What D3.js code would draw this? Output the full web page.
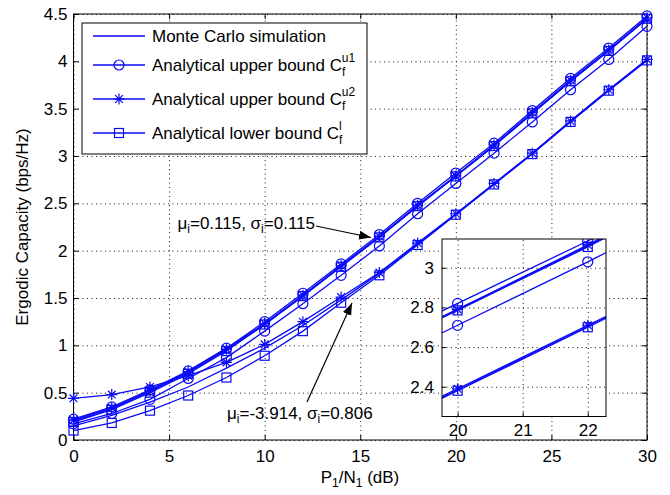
<!DOCTYPE html>
<html>
<head>
<meta charset="utf-8" />
<script src="https://cdn.jsdelivr.net/npm/d3@7"></script>
<style>
  body { margin: 0; background: #fff; }
  text { font-family: "Liberation Sans", Arial, sans-serif; fill: #000; }
  .grid line { stroke: #000; stroke-dasharray: 1, 3.5; stroke-width: 0.9; }
  .grid path { display: none; }
  .axis path { display: none; }
  .axis line { stroke: #000; }
</style>
</head>
<body>
<svg id="chart" width="670" height="495"></svg>
<script>
// SNR points P1/N1 (dB)
const snr = [0, 2, 4, 6, 8, 10, 12, 14, 16, 18, 20, 22, 24, 26, 28, 30];

// mu_i = 0.115, sigma_i = 0.115
const mcA = [0.20, 0.33, 0.51, 0.71, 0.95, 1.22, 1.52, 1.84, 2.15, 2.47, 2.79, 3.11, 3.45, 3.79, 4.12, 4.45];
const u1A = [0.22, 0.35, 0.53, 0.73, 0.97, 1.25, 1.55, 1.86, 2.17, 2.50, 2.82, 3.135, 3.48, 3.82, 4.14, 4.48];
const u2A = [0.21, 0.34, 0.52, 0.72, 0.96, 1.23, 1.53, 1.84, 2.15, 2.48, 2.79, 3.115, 3.46, 3.80, 4.12, 4.46];
const lbA = [0.19, 0.32, 0.50, 0.70, 0.94, 1.22, 1.52, 1.83, 2.14, 2.47, 2.785, 3.105, 3.45, 3.79, 4.11, 4.45];

// mu_i = -3.914, sigma_i = 0.806
const mcB = [0.15, 0.26, 0.40, 0.56, 0.76, 0.97, 1.21, 1.48, 1.76, 2.07, 2.385, 2.705, 3.03, 3.37, 3.70, 4.02];
const u1B = [0.17, 0.28, 0.43, 0.65, 0.87, 1.15, 1.44, 1.74, 2.05, 2.39, 2.71, 3.03, 3.36, 3.70, 4.02, 4.37];
const u2B = [0.44, 0.48, 0.56, 0.68, 0.82, 1.01, 1.25, 1.51, 1.77, 2.08, 2.39, 2.71, 3.03, 3.37, 3.70, 4.02];
const lbB = [0.10, 0.18, 0.31, 0.47, 0.66, 0.89, 1.15, 1.45, 1.74, 2.06, 2.38, 2.70, 3.02, 3.36, 3.69, 4.01];

const xTicks = [0, 5, 10, 15, 20, 25, 30];
const yTicks = [0, 0.5, 1, 1.5, 2, 2.5, 3, 3.5, 4, 4.5];
const insetXTicks = [20, 21, 22];
const insetYTicks = [2.4, 2.6, 2.8, 3];

const blue = "#0a0af5";
const fs = "17px";

const series = [
  {vals: mcA, mark: "none"}, {vals: u1A, mark: "circle"}, {vals: u2A, mark: "star"}, {vals: lbA, mark: "square"},
  {vals: mcB, mark: "none"}, {vals: u1B, mark: "circle"}, {vals: u2B, mark: "star"}, {vals: lbB, mark: "square"}
];

const svg = d3.select("#chart");

const x = d3.scaleLinear().domain([0, 30]).range([73.5, 647]);
const y = d3.scaleLinear().domain([0, 4.5]).range([440, 14]);
const plain = d => String(d);

function drawMarker(g, type, cx, cy) {
  if (type === "circle") {
    g.append("circle").attr("cx", cx).attr("cy", cy).attr("r", 5)
      .attr("fill", "none").attr("stroke", blue).attr("stroke-width", 1.2);
  } else if (type === "square") {
    g.append("rect").attr("x", cx - 4.5).attr("y", cy - 4.5).attr("width", 9).attr("height", 9)
      .attr("fill", "none").attr("stroke", blue).attr("stroke-width", 1.2);
  } else if (type === "star") {
    let s = 5.5, k = s * 0.7;
    g.append("path")
      .attr("d", `M${cx - s},${cy}H${cx + s}M${cx},${cy - s}V${cy + s}M${cx - k},${cy - k}L${cx + k},${cy + k}M${cx - k},${cy + k}L${cx + k},${cy - k}`)
      .attr("stroke", blue).attr("stroke-width", 1.2).attr("fill", "none");
  }
}

// grid
svg.append("g").attr("class", "grid")
  .attr("transform", "translate(0,440)")
  .call(d3.axisBottom(x).tickValues(xTicks).tickSize(-426).tickFormat(""));
svg.append("g").attr("class", "grid")
  .attr("transform", "translate(73.5,0)")
  .call(d3.axisLeft(y).tickValues(yTicks).tickSize(-573.5).tickFormat(""));

// axes with inner ticks
svg.append("g").attr("class", "axis").attr("transform", "translate(0,440)")
  .call(d3.axisBottom(x).tickValues(xTicks).tickFormat(plain).tickSize(-5).tickPadding(10).tickSizeOuter(0))
  .selectAll("text").style("font-size", fs).attr("dy", "0.71em");
svg.append("g").attr("class", "axis").attr("transform", "translate(0,14)")
  .call(d3.axisTop(x).tickValues(xTicks).tickSize(-5).tickFormat("").tickSizeOuter(0));
svg.append("g").attr("class", "axis").attr("transform", "translate(73.5,0)")
  .call(d3.axisLeft(y).tickValues(yTicks).tickFormat(plain).tickSize(-5).tickPadding(6).tickSizeOuter(0))
  .selectAll("text").style("font-size", fs);
svg.append("g").attr("class", "axis").attr("transform", "translate(647,0)")
  .call(d3.axisRight(y).tickValues(yTicks).tickSize(-5).tickFormat("").tickSizeOuter(0));

svg.append("rect").attr("x", 73.5).attr("y", 14).attr("width", 573.5).attr("height", 426)
  .attr("fill", "none").attr("stroke", "#000").attr("stroke-width", 1);

// curves
const line = d3.line().x((d, i) => x(snr[i])).y(d => y(d));
const curves = svg.append("g");
series.forEach(s => {
  curves.append("path").attr("d", line(s.vals)).attr("fill", "none")
    .attr("stroke", blue).attr("stroke-width", 1.3);
  if (s.mark !== "none") s.vals.forEach((v, i) => drawMarker(curves, s.mark, x(snr[i]), y(v)));
});

// annotations
svg.append("defs").append("marker")
  .attr("id", "head").attr("viewBox", "0 -5 12 10").attr("refX", 12).attr("refY", 0)
  .attr("markerWidth", 12).attr("markerHeight", 10).attr("markerUnits", "userSpaceOnUse")
  .attr("orient", "auto")
  .append("path").attr("d", "M0,-4.5L12,0L0,4.5Z").attr("fill", "#000");

function label(tx, ty, anchor, mu, sigma) {
  let t = svg.append("text").attr("x", tx).attr("y", ty).attr("text-anchor", anchor).style("font-size", fs);
  t.append("tspan").text("\u03bc");
  t.append("tspan").attr("dy", 4).style("font-size", "12px").text("i");
  t.append("tspan").attr("dy", -4).text("=" + mu + ", \u03c3");
  t.append("tspan").attr("dy", 4).style("font-size", "12px").text("i");
  t.append("tspan").attr("dy", -4).text("=" + sigma);
}
label(315, 229, "end", "0.115", "0.115");
svg.append("line").attr("x1", 316).attr("y1", 226).attr("x2", 371).attr("y2", 237.5)
  .attr("stroke", "#000").attr("stroke-width", 1.2).attr("marker-end", "url(#head)");
label(227, 419, "start", "-3.914", "0.806");
svg.append("line").attr("x1", 307).attr("y1", 402).attr("x2", 352).attr("y2", 303)
  .attr("stroke", "#000").attr("stroke-width", 1.2).attr("marker-end", "url(#head)");

// inset
const ix = d3.scaleLinear().domain([19.76, 22.28]).range([442, 606]);
const iy = d3.scaleLinear().domain([2.25, 3.145]).range([416.5, 239]);
const inset = svg.append("g");
inset.append("rect").attr("x", 442).attr("y", 239).attr("width", 164).attr("height", 177.5).attr("fill", "#fff");
inset.append("clipPath").attr("id", "insetClip").append("rect")
  .attr("x", 442).attr("y", 239).attr("width", 164).attr("height", 177.5);
inset.append("g").attr("class", "grid").attr("transform", "translate(0,416.5)")
  .call(d3.axisBottom(ix).tickValues(insetXTicks).tickSize(-177.5).tickFormat(""));
inset.append("g").attr("class", "grid").attr("transform", "translate(442,0)")
  .call(d3.axisLeft(iy).tickValues(insetYTicks).tickSize(-164).tickFormat(""));
inset.append("g").attr("class", "axis").attr("transform", "translate(0,416.5)")
  .call(d3.axisBottom(ix).tickValues(insetXTicks).tickFormat(plain).tickSize(-4).tickPadding(7).tickSizeOuter(0))
  .selectAll("text").style("font-size", fs).attr("dy", "0.71em");
inset.append("g").attr("class", "axis").attr("transform", "translate(442,0)")
  .call(d3.axisLeft(iy).tickValues(insetYTicks).tickFormat(plain).tickSize(-4).tickPadding(8).tickSizeOuter(0))
  .selectAll("text").style("font-size", fs);
const iline = d3.line().x((d, i) => ix(snr[i])).y(d => iy(d));
const ic = inset.append("g").attr("clip-path", "url(#insetClip)");
series.forEach(s => {
  ic.append("path").attr("d", iline(s.vals)).attr("fill", "none")
    .attr("stroke", blue).attr("stroke-width", 1.3);
  if (s.mark !== "none") s.vals.forEach((v, i) => {
    if (snr[i] >= 20 && snr[i] <= 22) drawMarker(ic, s.mark, ix(snr[i]), iy(v));
  });
});
inset.append("rect").attr("x", 442).attr("y", 239).attr("width", 164).attr("height", 177.5)
  .attr("fill", "none").attr("stroke", "#000").attr("stroke-width", 1);

// legend
const lg = svg.append("g");
lg.append("rect").attr("x", 82).attr("y", 23).attr("width", 285).attr("height", 131)
  .attr("fill", "#fff").attr("stroke", "#000").attr("stroke-width", 1);
const legendRows = [
  {mark: "none", cy: 36, text: "Monte Carlo simulation", sup: null},
  {mark: "circle", cy: 65, text: "Analytical upper bound C", sup: "u1"},
  {mark: "star", cy: 99, text: "Analytical upper bound C", sup: "u2"},
  {mark: "square", cy: 133, text: "Analytical lower bound C", sup: "l"}
];
legendRows.forEach(r => {
  lg.append("line").attr("x1", 93).attr("x2", 145).attr("y1", r.cy).attr("y2", r.cy)
    .attr("stroke", blue).attr("stroke-width", 1.3);
  drawMarker(lg, r.mark, 119, r.cy);
  let t = lg.append("text").attr("x", 152).attr("y", r.cy + 6).style("font-size", fs).text(r.text);
  if (r.sup) {
    t.append("tspan").attr("dy", 5).style("font-size", "12px").text("f");
    t.append("tspan").attr("dx", -3.5).attr("dy", -14).style("font-size", "12px").text(r.sup);
  }
});

// axis titles
let xl = svg.append("text").attr("x", 360).attr("y", 483).attr("text-anchor", "middle").style("font-size", fs);
xl.append("tspan").text("P");
xl.append("tspan").attr("dy", 4).style("font-size", "12px").text("1");
xl.append("tspan").attr("dy", -4).text("/N");
xl.append("tspan").attr("dy", 4).style("font-size", "12px").text("1");
xl.append("tspan").attr("dy", -4).text(" (dB)");
svg.append("text").attr("transform", "translate(28,227) rotate(-90)")
  .attr("text-anchor", "middle").style("font-size", fs).text("Ergodic Capacity (bps/Hz)");
</script>
</body>
</html>
